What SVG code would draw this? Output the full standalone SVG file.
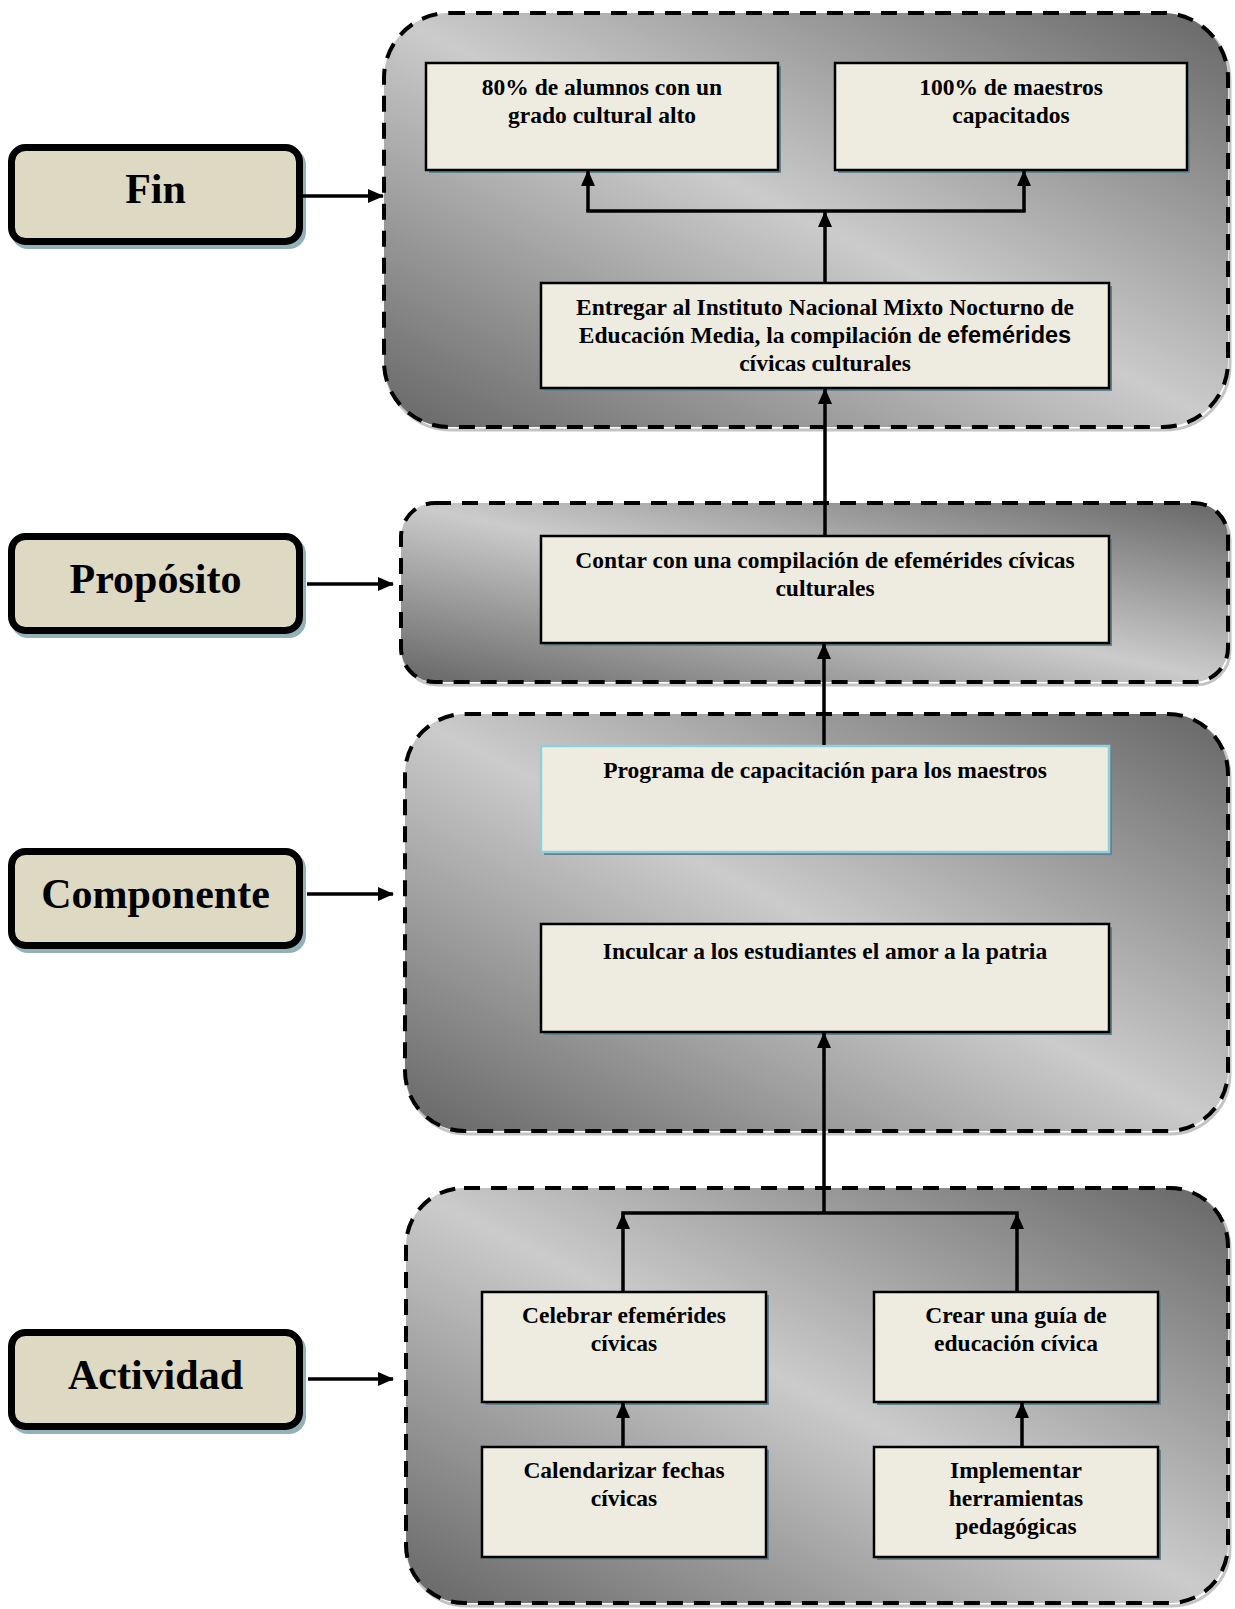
<svg xmlns="http://www.w3.org/2000/svg" width="1235" height="1609" viewBox="0 0 1235 1609">
<style>
  .cont { stroke: #000; stroke-width: 4; stroke-dasharray: 16 11; fill: url(#grad); }
  .contsh { fill: none; stroke: #c4c4c4; stroke-width: 3; }
  .lbl { fill: #DDD9C3; stroke: #000; stroke-width: 7; }
  .lblsh { fill: #93B1B9; }
  .box { fill: #EEECE1; stroke: #000; stroke-width: 2.5; }
  .boxb { fill: #EEECE1; stroke: #92CDDC; stroke-width: 2.5; }
  .boxsh { fill: #62828C; }
  .lt { font-family: "Liberation Serif", "Times New Roman", serif; font-weight: bold; font-size: 42px; text-anchor: middle; fill: #000; }
  .bt { font-family: "Liberation Serif", "Times New Roman", serif; font-weight: bold; font-size: 23.5px; text-anchor: middle; fill: #000; }
  .sans { font-family: "Liberation Sans", Arial, sans-serif; }
  .ln { stroke: #000; stroke-width: 3.5; fill: none; stroke-linecap: square; }
  .arr { stroke: #000; stroke-width: 3.5; fill: none; marker-end: url(#ah); }
</style>
<defs>
  <linearGradient id="grad" x1="1" y1="0" x2="0" y2="1">
    <stop offset="0" stop-color="#666666"/>
    <stop offset="0.5" stop-color="#cbcbcb"/>
    <stop offset="1" stop-color="#666666"/>
  </linearGradient>
  <marker id="ah" viewBox="0 0 16 14" refX="15" refY="7" markerWidth="16" markerHeight="14" markerUnits="userSpaceOnUse" orient="auto">
    <path d="M0,0 L16,7 L0,14 Z" fill="#000"/>
  </marker>
</defs>

<!-- Containers -->
<g id="fin-container">
  <rect class="contsh" x="386" y="16" width="844" height="414" rx="65"/>
  <rect class="cont" x="384" y="13" width="844" height="414" rx="65"/>
</g>
<g id="proposito-container">
  <rect class="contsh" x="403" y="506" width="827" height="179" rx="34"/>
  <rect class="cont" x="401" y="503" width="827" height="179" rx="34"/>
</g>
<g id="componente-container">
  <rect class="contsh" x="407" y="717" width="823" height="417" rx="60"/>
  <rect class="cont" x="405" y="714" width="823" height="417" rx="60"/>
</g>
<g id="actividad-container">
  <rect class="contsh" x="408" y="1191" width="822" height="415" rx="58"/>
  <rect class="cont" x="406" y="1188" width="822" height="415" rx="58"/>
</g>

<!-- Level labels -->
<g id="lbl-fin">
  <rect class="lblsh" x="11" y="148" width="295" height="101" rx="17"/>
  <rect class="lbl" x="11.5" y="147.5" width="288" height="94" rx="14"/>
  <text class="lt" x="155.5" y="203">Fin</text>
</g>
<g id="lbl-proposito">
  <rect class="lblsh" x="11" y="537" width="295" height="101" rx="17"/>
  <rect class="lbl" x="11.5" y="536.5" width="288" height="94" rx="14"/>
  <text class="lt" x="155.5" y="593">Propósito</text>
</g>
<g id="lbl-componente">
  <rect class="lblsh" x="11" y="852" width="295" height="101" rx="17"/>
  <rect class="lbl" x="11.5" y="851.5" width="288" height="94" rx="14"/>
  <text class="lt" x="155.5" y="908">Componente</text>
</g>
<g id="lbl-actividad">
  <rect class="lblsh" x="11" y="1333" width="295" height="101" rx="17"/>
  <rect class="lbl" x="11.5" y="1332.5" width="288" height="94" rx="14"/>
  <text class="lt" x="155.5" y="1389">Actividad</text>
</g>

<!-- Inner nodes -->
<g id="n-80">
  <rect class="boxsh" x="429" y="66" width="352" height="107"/>
  <rect class="box" x="426" y="63" width="352" height="107"/>
  <text class="bt" x="602" y="95">80% de alumnos con un</text>
  <text class="bt" x="602" y="123">grado cultural alto</text>
</g>
<g id="n-100">
  <rect class="boxsh" x="838" y="66" width="352" height="107"/>
  <rect class="box" x="835" y="63" width="352" height="107"/>
  <text class="bt" x="1011" y="95">100% de maestros</text>
  <text class="bt" x="1011" y="123">capacitados</text>
</g>
<g id="n-entregar">
  <rect class="boxsh" x="544" y="286" width="568" height="105"/>
  <rect class="box" x="541" y="283" width="568" height="105"/>
  <text class="bt" x="825" y="315">Entregar al Instituto Nacional Mixto Nocturno de</text>
  <text class="bt" x="825" y="343">Educación Media, la compilación de <tspan class="sans">efemérides</tspan></text>
  <text class="bt" x="825" y="371">cívicas culturales</text>
</g>
<g id="n-contar">
  <rect class="boxsh" x="544" y="539" width="568" height="107"/>
  <rect class="box" x="541" y="536" width="568" height="107"/>
  <text class="bt" x="825" y="568">Contar con una compilación de efemérides cívicas</text>
  <text class="bt" x="825" y="596">culturales</text>
</g>
<g id="n-programa">
  <rect class="boxsh" x="544" y="749" width="568" height="106"/>
  <rect class="boxb" x="541" y="746" width="568" height="106"/>
  <text class="bt" x="825" y="778">Programa de capacitación para los maestros</text>
</g>
<g id="n-inculcar">
  <rect class="boxsh" x="544" y="927" width="568" height="108"/>
  <rect class="box" x="541" y="924" width="568" height="108"/>
  <text class="bt" x="825" y="959">Inculcar a los estudiantes el amor a la patria</text>
</g>
<g id="n-celebrar">
  <rect class="boxsh" x="485" y="1295" width="284" height="110"/>
  <rect class="box" x="482" y="1292" width="284" height="110"/>
  <text class="bt" x="624" y="1323">Celebrar efemérides</text>
  <text class="bt" x="624" y="1351">cívicas</text>
</g>
<g id="n-crear">
  <rect class="boxsh" x="877" y="1295" width="284" height="110"/>
  <rect class="box" x="874" y="1292" width="284" height="110"/>
  <text class="bt" x="1016" y="1323">Crear una guía de</text>
  <text class="bt" x="1016" y="1351">educación cívica</text>
</g>
<g id="n-calendarizar">
  <rect class="boxsh" x="485" y="1450" width="284" height="110"/>
  <rect class="box" x="482" y="1447" width="284" height="110"/>
  <text class="bt" x="624" y="1478">Calendarizar fechas</text>
  <text class="bt" x="624" y="1506">cívicas</text>
</g>
<g id="n-implementar">
  <rect class="boxsh" x="877" y="1450" width="284" height="110"/>
  <rect class="box" x="874" y="1447" width="284" height="110"/>
  <text class="bt" x="1016" y="1478">Implementar</text>
  <text class="bt" x="1016" y="1506">herramientas</text>
  <text class="bt" x="1016" y="1534">pedagógicas</text>
</g>

<!-- Connectors -->
<g id="connectors">
  <line class="arr" x1="302" y1="196" x2="383" y2="196"/>
  <line class="arr" x1="307" y1="584" x2="393" y2="584"/>
  <line class="arr" x1="307" y1="894" x2="393" y2="894"/>
  <line class="arr" x1="308" y1="1379" x2="393" y2="1379"/>

  <line class="arr" x1="825" y1="282" x2="825" y2="212"/>
  <line class="ln" x1="588" y1="211" x2="1024" y2="211"/>
  <line class="arr" x1="588" y1="211" x2="588" y2="171"/>
  <line class="arr" x1="1024" y1="211" x2="1024" y2="171"/>

  <line class="arr" x1="825" y1="535" x2="825" y2="389"/>
  <line class="arr" x1="824" y1="745" x2="824" y2="644"/>
  <line class="arr" x1="824" y1="1213" x2="824" y2="1033"/>

  <line class="ln" x1="623" y1="1213" x2="1017" y2="1213"/>
  <line class="arr" x1="623" y1="1291" x2="623" y2="1214"/>
  <line class="arr" x1="1017" y1="1291" x2="1017" y2="1214"/>
  <line class="arr" x1="623" y1="1446" x2="623" y2="1403"/>
  <line class="arr" x1="1022" y1="1446" x2="1022" y2="1403"/>
</g>
</svg>
